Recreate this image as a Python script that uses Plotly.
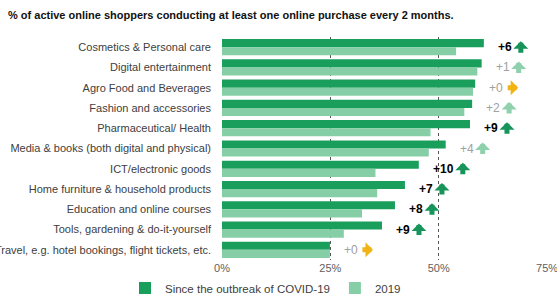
import plotly.graph_objects as go

categories = [
    "Cosmetics & Personal care",
    "Digital entertainment",
    "Agro Food and Beverages",
    "Fashion and accessories",
    "Pharmaceutical/ Health",
    "Media & books (both digital and physical)",
    "ICT/electronic goods",
    "Home furniture & household products",
    "Education and online courses",
    "Tools, gardening & do-it-yourself",
    "Travel, e.g. hotel bookings, flight tickets, etc.",
]
since_covid = [60.4, 59.9, 58.4, 57.7, 57.2, 51.6, 45.4, 42.2, 39.9, 36.9, 24.9]
y2019 = [54.0, 58.9, 57.9, 55.9, 48.1, 47.7, 35.4, 35.8, 32.3, 28.1, 24.9]
change = [6, 1, 0, 2, 9, 4, 10, 7, 8, 9, 0]
significant = [True, False, False, False, True, False, True, True, True, True, False]
x_ticks = [0, 25, 50, 75]
x_tick_labels = ["0%", "25%", "50%", "75%"]

DARK = "#1a9e5c"
LIGHT = "#86cfa6"

fig = go.Figure()
fig.add_trace(go.Bar(
    y=categories, x=since_covid, orientation="h",
    name="Since the outbreak of COVID-19",
    marker=dict(color=DARK, line=dict(width=0)),
))
fig.add_trace(go.Bar(
    y=categories, x=y2019, orientation="h",
    name="2019",
    marker=dict(color=LIGHT, line=dict(width=0)),
))

for cat, v, c, sig in zip(categories, since_covid, change, significant):
    label = f"+{c}"
    if sig:
        txt = f"<b>{label}</b>"
        tcol = "#000000"
        acol = "#17945a"
    else:
        txt = label
        tcol = "#a0a0a0"
        acol = "#8fd0ad"
    if c == 0:
        acol = "#f2b415"
    fig.add_annotation(
        x=v, y=cat, xref="x", yref="y",
        text=txt, showarrow=False, xanchor="left", xshift=12,
        font=dict(size=12, family="Liberation Sans, Arial", color=tcol),
    )
    ax_shift = 12 + 7 * len(label) + 11
    if c == 0:
        fig.add_annotation(
            x=v, y=cat, xref="x", yref="y", text="",
            showarrow=True, arrowhead=1, arrowsize=0.5, arrowwidth=5,
            arrowcolor=acol, ax=-12, ay=0, xshift=ax_shift + 6, yshift=0,
        )
    else:
        fig.add_annotation(
            x=v, y=cat, xref="x", yref="y", text="",
            showarrow=True, arrowhead=1, arrowsize=0.5, arrowwidth=5,
            arrowcolor=acol, ax=0, ay=13, xshift=ax_shift, yshift=6,
        )

fig.update_layout(
    width=557, height=297,
    margin=dict(l=222, r=9, t=37, b=37, autoexpand=False),
    paper_bgcolor="white", plot_bgcolor="white",
    barmode="group", bargap=0.2, bargroupgap=0,
    font=dict(family="Liberation Sans, Arial", size=11, color="#404040"),
    title=dict(
        text="<b>% of active online shoppers conducting at least one online purchase every 2 months.</b>",
        x=0, xref="container", xanchor="left", y=1 - 15 / 297, yref="container",
        yanchor="middle", pad=dict(l=8),
        font=dict(size=11, color="#111111"),
    ),
    showlegend=True,
    legend=dict(
        orientation="h", x=125 / 557, xref="container", xanchor="left",
        y=9 / 297, yref="container", yanchor="middle",
        font=dict(size=11.5, color="#404040"), traceorder="normal",
        itemwidth=30, tracegroupgap=0,
    ),
    xaxis=dict(
        range=[0, 75.2], tickvals=x_ticks, ticktext=x_tick_labels,
        showgrid=True, gridcolor="#555555", griddash="dot", gridwidth=1,
        zeroline=False, showline=False, automargin=False,
        ticklabeloverflow="allow",
        tickfont=dict(size=11, color="#606060"),
    ),
    yaxis=dict(
        autorange="reversed", showgrid=False, zeroline=False,
        ticks="", ticklabelstandoff=10, automargin=False,
        tickfont=dict(size=11, color="#404040"),
    ),
)

fig.write_html(
    "out.html",
    config={"displayModeBar": False},
    post_script="document.body.style.margin='0';document.body.style.padding='0';",
)
